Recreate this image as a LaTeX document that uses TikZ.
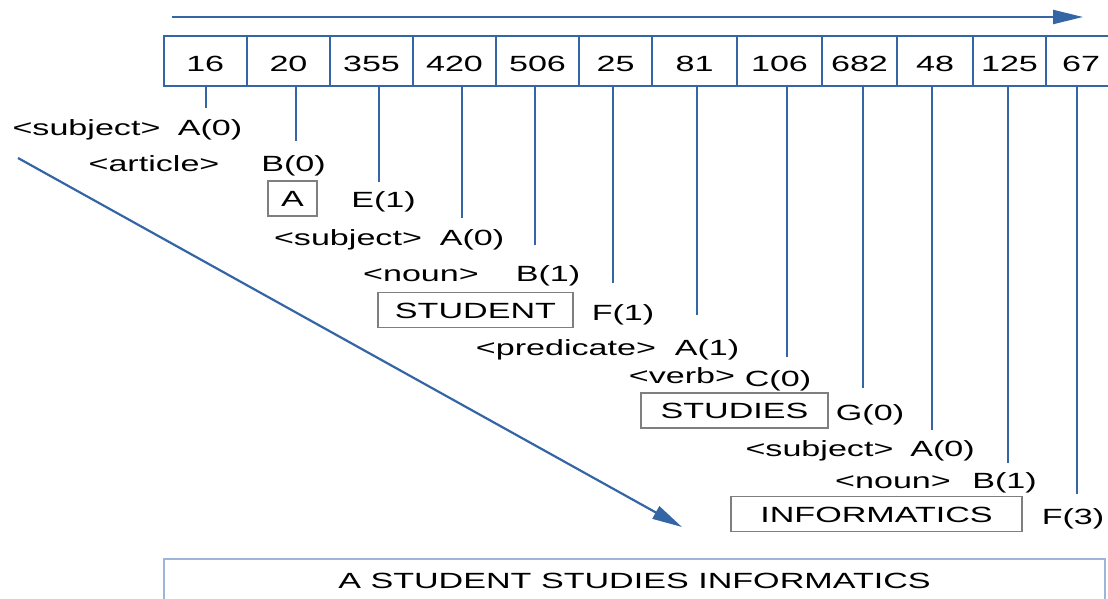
\documentclass[tikz,border=0pt]{standalone}
\usepackage{fontspec}
\setmainfont{Liberation Sans}[FakeStretch=1.55]
\usetikzlibrary{arrows.meta}
\definecolor{linkblue}{HTML}{3465A4}
\definecolor{boxgray}{HTML}{7F7F7F}
\definecolor{frameblue}{HTML}{9DB5D9}

\begin{document}
\begin{tikzpicture}[%
    x=0.5pt, y=-0.5pt,                   % one unit per pixel, y going down
    >={Triangle[length=15pt, width=7pt]}, % solid heads for both arrows
    ]
% -------------------------------------------------
% Styles for cells, labels and word boxes
\tikzset{
  base/.style={font=\fontsize{11pt}{13pt}\selectfont, text height=8pt, text depth=0pt},
  cell/.style={base, text height=10.5pt, draw=linkblue, line width=1pt, minimum height=25pt, inner sep=0pt},
  lbl/.style={base, inner sep=2pt},
  word/.style={base, draw=boxgray, line width=0.6pt, minimum height=17.5pt, inner sep=0pt},
  link/.style={draw=linkblue, line width=1pt},
  arr/.style={link, ->, line width=1.1pt}
}
\useasboundingbox (0,0) rectangle (1108,599);
% -------------------------------------------------
% The input row
\foreach \v/\xa/\xb [count=\i] in {16/163.5/247, 20/247/330, 355/330/413,
    420/413/496, 506/496/579, 25/579/652, 81/652/737, 106/737/822,
    682/822/897, 48/897/973, 125/973/1046, 67/1046/1116}
  \node [cell, minimum width={(\xb-\xa)*0.5pt}] (c\i) at ({(\xa+\xb)/2}, 61) {\v};

\coordinate (scanL) at (172,17);
\coordinate (scanR) at (1083,17);
\draw [arr] (scanL) -- (scanR);

% -------------------------------------------------
% Categories and states, one line per step
\node [lbl] (subj1) at (86.5,127) {<subject>};
\node [lbl] (s1) at (210,127) {A(0)};
\node [lbl] (art) at (154,163) {<article>};
\node [lbl] (s2) at (293.5,163) {B(0)};
\node [word, minimum width=24.5pt] (wA) at (292.5,198.5) {A};
\node [lbl] (s3) at (383.5,199) {E(1)};
\node [lbl] (subj2) at (348,237) {<subject>};
\node [lbl] (s4) at (472,237) {A(0)};
\node [lbl] (noun1) at (421,273) {<noun>};
\node [lbl] (s5) at (548,273) {B(1)};
\node [word, minimum width=97.5pt] (wStudent) at (475.5,310) {STUDENT};
\node [lbl] (s6) at (623,312) {F(1)};
\node [lbl] (pred) at (566,347) {<predicate>};
\node [lbl] (s7) at (707,347) {A(1)};
\node [lbl] (verb) at (682,375) {<verb>};
\node [lbl] (s8) at (778,378) {C(0)};
\node [word, minimum width=93.5pt] (wStudies) at (734.5,410.5) {STUDIES};
\node [lbl] (s9) at (870,412) {G(0)};
\node [lbl] (subj3) at (819.5,448) {<subject>};
\node [lbl] (s10) at (942.5,448) {A(0)};
\node [lbl] (noun2) at (893,480) {<noun>};
\node [lbl] (s11) at (1004.5,480) {B(1)};
\node [word, minimum width=145.5pt] (wInfo) at (876.5,514) {INFORMATICS};
\node [lbl] (s12) at (1073,516) {F(3)};

% drop lines from each cell to its state
\foreach \i/\dx/\gap in {1/1/3.5, 2/7.5/5, 3/7.5/2.5, 4/7.5/3.5, 5/-2.5/8,
    6/-2.5/8.5, 7/2.5/10, 8/7.5/4.5, 9/3.5/6, 10/-3/3, 11/-1.5/2.5, 12/-4/5}
  \draw [link, shorten >={\gap*1pt}]
    ([xshift=\dx*0.5pt]c\i.south) -- ([xshift=\dx*0.5pt]c\i.south |- s\i.north);

% -------------------------------------------------
% Result
\coordinate (deriv0) at (18,158);
\coordinate (deriv1) at (682,527);
\draw [arr] (deriv0) -- (deriv1);

\node [base, draw=frameblue, line width=1pt, minimum width=470.5pt,
  minimum height=21pt, inner sep=0pt] (sent) at (634.5,580)
  {A STUDENT STUDIES INFORMATICS};
% -------------------------------------------------
\end{tikzpicture}
\end{document}
